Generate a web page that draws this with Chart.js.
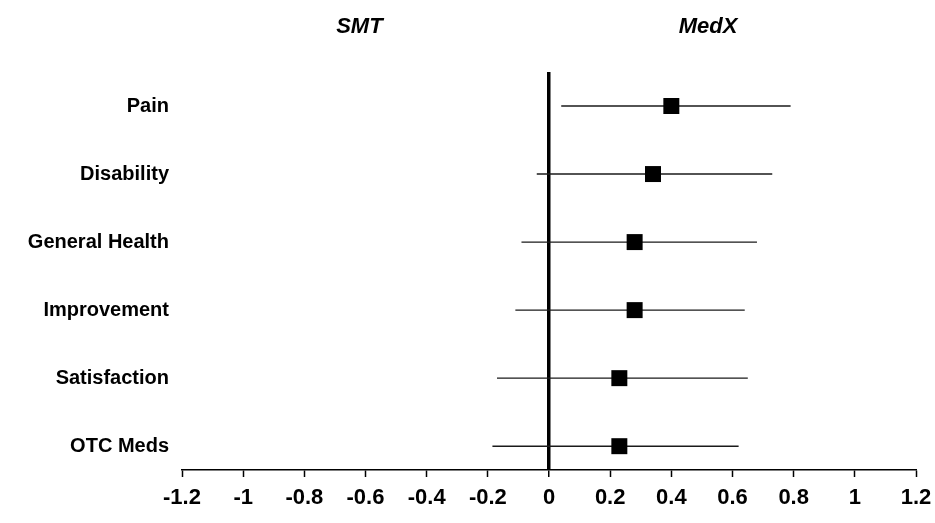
<!DOCTYPE html>
<html>
<head>
<meta charset="utf-8">
<script src="https://cdn.jsdelivr.net/npm/chart.js@4.4.1/dist/chart.umd.min.js"></script>
<style>
  html, body { margin: 0; padding: 0; background: #fff; }
  #wrap { width: 935px; height: 523px; }
</style>
</head>
<body>
<div id="wrap"><canvas id="c" width="935" height="523"></canvas></div>
<script>
// ---- data ----
const categories = ['Pain', 'Disability', 'General Health', 'Improvement', 'Satisfaction', 'OTC Meds'];
const effectSize = [0.40, 0.34, 0.28, 0.28, 0.23, 0.23];
const lowerCI = [0.04, -0.04, -0.09, -0.11, -0.17, -0.185];
const upperCI = [0.79, 0.73, 0.68, 0.64, 0.65, 0.62];
const xTickValues = [-1.2, -1, -0.8, -0.6, -0.4, -0.2, 0, 0.2, 0.4, 0.6, 0.8, 1, 1.2];
const xTickLabels = ['-1.2', '-1', '-0.8', '-0.6', '-0.4', '-0.2', '0', '0.2', '0.4', '0.6', '0.8', '1', '1.2'];
const groupHeaders = ['SMT', 'MedX'];
const groupHeaderPos = [-0.62, 0.52];

const FONT = '"Liberation Sans", Arial, Helvetica, sans-serif';

const whiskerSets = categories.map((c, i) => ({
  type: 'line',
  label: c + ' CI',
  data: [{ x: lowerCI[i], y: i }, { x: upperCI[i], y: i }],
  borderColor: '#1a1a1a',
  borderWidth: 1.4,
  pointRadius: 0,
  fill: false,
  order: 2
}));

const pointSet = {
  type: 'scatter',
  label: 'Effect size',
  data: categories.map((c, i) => ({ x: effectSize[i], y: i })),
  pointStyle: 'rect',
  pointRadius: 11.3,
  pointHoverRadius: 11.3,
  backgroundColor: '#000',
  borderColor: '#000',
  borderWidth: 0,
  order: 1
};

new Chart(document.getElementById('c'), {
  type: 'scatter',
  data: { datasets: [...whiskerSets, pointSet] },
  options: {
    responsive: false,
    animation: false,
    devicePixelRatio: 1,
    layout: { padding: { left: 0, right: 19, top: 0, bottom: 0 } },
    plugins: { legend: { display: false }, tooltip: { enabled: false } },
    scales: {
      x: {
        type: 'linear',
        position: 'bottom',
        min: -1.2,
        max: 1.2,
        afterBuildTicks: (axis) => { axis.ticks = xTickValues.map(v => ({ value: v })); },
        afterFit: (scale) => { scale.height = 53; scale.paddingRight = 0; scale.paddingLeft = 0; },
        ticks: {
          autoSkip: false,
          maxRotation: 0,
          padding: 8,
          color: '#000',
          font: { family: FONT, size: 22, weight: 'bold' },
          callback: (v, i) => xTickLabels[i]
        },
        grid: {
          drawOnChartArea: true,
          color: (ctx) => (ctx.tick && Math.abs(ctx.tick.value) < 1e-9) ? '#000' : 'rgba(0,0,0,0)',
          lineWidth: (ctx) => (ctx.tick && Math.abs(ctx.tick.value) < 1e-9) ? 3.5 : 1,
          tickColor: '#000',
          tickLength: 7,
          tickWidth: 1.5
        },
        border: { display: true, color: '#000', width: 1.5 }
      },
      x2: {
        type: 'linear',
        position: 'top',
        min: -1.2,
        max: 1.2,
        afterBuildTicks: (axis) => { axis.ticks = groupHeaderPos.map(v => ({ value: v })); },
        afterFit: (scale) => { scale.height = 72; scale.paddingRight = 0; scale.paddingLeft = 0; },
        ticks: {
          autoSkip: false,
          maxRotation: 0,
          padding: 24,
          color: '#000',
          font: { family: FONT, size: 22, weight: 'bold', style: 'italic' },
          callback: (v, i) => groupHeaders[i]
        },
        grid: { display: false },
        border: { display: false }
      },
      y: {
        type: 'linear',
        reverse: true,
        min: -0.5,
        max: 5.35,
        afterBuildTicks: (axis) => { axis.ticks = categories.map((c, i) => ({ value: i })); },
        afterFit: (scale) => { scale.width = 182; },
        ticks: {
          autoSkip: false,
          padding: 13,
          color: '#000',
          font: { family: FONT, size: 20, weight: 'bold' },
          callback: (v, i) => categories[i]
        },
        grid: { display: false, drawTicks: false },
        border: { display: false }
      }
    }
  }
});
</script>
</body>
</html>
